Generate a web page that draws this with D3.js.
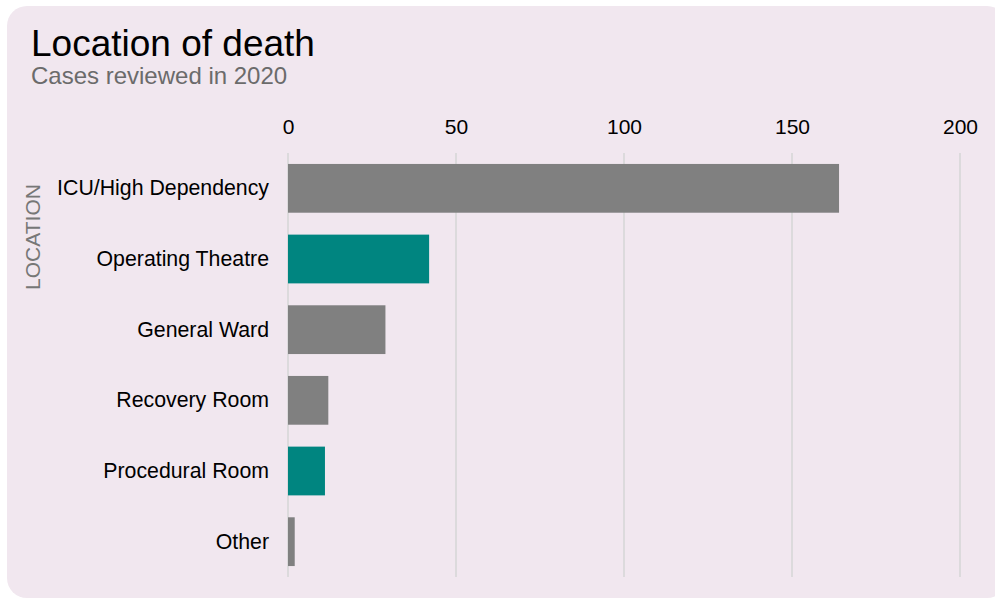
<!DOCTYPE html>
<html>
<head>
<meta charset="utf-8">
<script src="https://cdn.jsdelivr.net/npm/d3@7"></script>
<style>
  html, body { margin: 0; padding: 0; background: #ffffff; }
  svg { display: block; font-family: "Liberation Sans", Arial, sans-serif; }
</style>
</head>
<body>
<svg id="chart" width="995" height="599"></svg>
<script>
// Location of death, cases reviewed in 2020
const locations = ["ICU/High Dependency", "Operating Theatre", "General Ward", "Recovery Room", "Procedural Room", "Other"];
const deaths = [164, 42, 29, 12, 11, 2];
const highlighted = ["Operating Theatre", "Procedural Room"];
const xTicks = [0, 50, 100, 150, 200];

const svg = d3.select("#chart");

// card background
svg.append("rect")
  .attr("x", 7).attr("y", 6)
  .attr("width", 1000).attr("height", 592)
  .attr("rx", 20).attr("ry", 20)
  .attr("fill", "#f1e7ef");

svg.append("text")
  .attr("x", 31).attr("y", 56)
  .attr("font-size", 37).attr("fill", "#000")
  .text("Location of death");

svg.append("text")
  .attr("x", 31).attr("y", 84)
  .attr("font-size", 24).attr("fill", "#6b6b6b")
  .text("Cases reviewed in 2020");

const x = d3.scaleLinear().domain([0, 200]).range([288, 960]);
const y = d3.scaleBand().domain(locations).range([153, 577])
  .paddingInner(0.31).paddingOuter(0.155);

// vertical grid lines
svg.append("g").selectAll("line")
  .data(xTicks).join("line")
  .attr("x1", d => x(d)).attr("x2", d => x(d))
  .attr("y1", 153).attr("y2", 577)
  .attr("stroke", "#dcdadc").attr("stroke-width", 2);

// top axis labels
const xAxis = d3.axisTop(x).tickValues(xTicks).tickSize(0).tickPadding(0);
const gx = svg.append("g").attr("transform", "translate(0,134)").call(xAxis);
gx.select(".domain").remove();
gx.selectAll("text")
  .attr("font-size", 21).attr("fill", "#000")
  .attr("font-family", "Liberation Sans, Arial, sans-serif")
  .attr("dy", 0);

// category labels
const yAxis = d3.axisLeft(y).tickSize(0).tickPadding(0);
const gy = svg.append("g").attr("transform", "translate(269,0)").call(yAxis);
gy.select(".domain").remove();
gy.selectAll("text")
  .attr("font-size", 21.3).attr("fill", "#000")
  .attr("font-family", "Liberation Sans, Arial, sans-serif")
  .attr("dy", "0.33em");

// bars
svg.append("g").selectAll("rect")
  .data(locations.map((l, i) => ({ l, v: deaths[i] })))
  .join("rect")
  .attr("x", x(0))
  .attr("y", d => y(d.l))
  .attr("width", d => x(d.v) - x(0))
  .attr("height", y.bandwidth())
  .attr("fill", d => highlighted.includes(d.l) ? "#008580" : "#808080");

// axis title
svg.append("text")
  .attr("transform", "translate(40,237) rotate(-90)")
  .attr("text-anchor", "middle")
  .attr("font-size", 21).attr("fill", "#777")
  .text("LOCATION");
</script>
</body>
</html>
